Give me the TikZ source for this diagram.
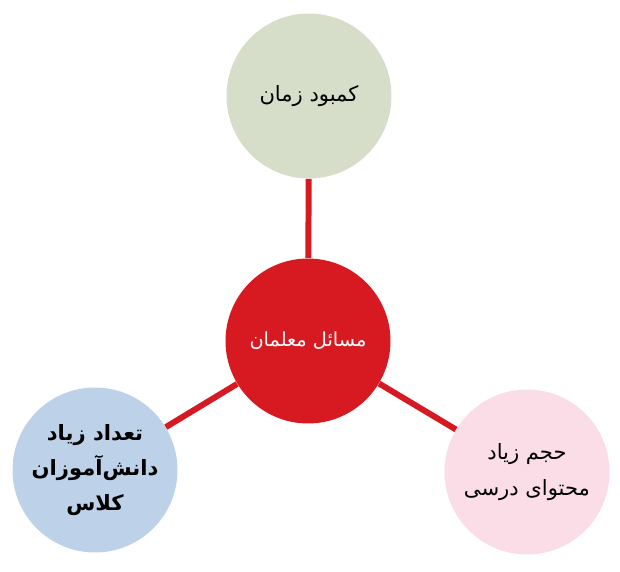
\documentclass[tikz,border=0pt]{standalone}
\usepackage{fontspec}
\setmainfont{DejaVu Sans}
\newfontfamily\arabicfont[Script=Arabic]{DejaVu Sans}
\TeXXeTstate=1
\definecolor{sage}{HTML}{D6DDC9}
\definecolor{redc}{HTML}{D71A22}
\definecolor{bluec}{HTML}{BDD2E8}
\definecolor{pinkc}{HTML}{FADDE7}

\begin{document}
\begin{tikzpicture}[x=0.02cm,y=-0.02cm,
		bubble/.style={circle,minimum size=3.3cm,inner sep=0pt,align=center,
			font=\arabicfont\fontsize{12}{20}\selectfont},
		boldtext/.style={font=\arabicfont\bfseries\fontsize{12}{20}\selectfont},
		link/.style={line width=3.4pt,draw=redc}]
				\useasboundingbox (0,0) rectangle (620,572);
				\node[bubble,fill=redc,text=white,font=\arabicfont\fontsize{11}{20}\selectfont] (masael) at (308,341) {\beginR مسائل معلمان\endR};
				\node[bubble,fill=sage] (zaman) at (309,96) {\beginR کمبود زمان\endR};
				\node[bubble,boldtext,fill=bluec] (danesh) at (95,470) {\beginR تعداد زیاد\endR\\\beginR دانش‌آموزان\endR\\\beginR کلاس\endR};
				\node[bubble,fill=pinkc] (mohtava) at (527,472) {\beginR حجم زیاد\endR\\\beginR محتوای درسی\endR};
				\draw[link] (masael)--(zaman);
				\draw[link] (masael)--(danesh);
				\draw[link] (masael)--(mohtava);
			\end{tikzpicture}
\end{document}
